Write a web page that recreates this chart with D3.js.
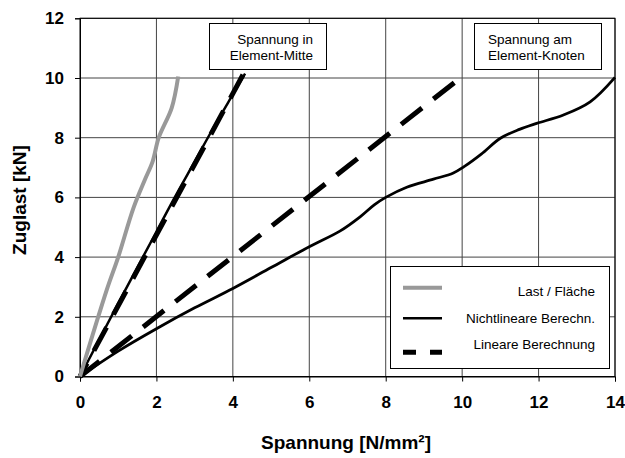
<!DOCTYPE html>
<html><head><meta charset="utf-8">
<script src="https://cdn.jsdelivr.net/npm/d3@7"></script>
<style>
html,body{margin:0;padding:0;background:#fff;}
svg{display:block;font-family:"Liberation Sans",Arial,sans-serif;}
</style></head>
<body><svg id="chart" width="625" height="458"></svg>
<script>
// ---- data ----
const xTicks = [0,2,4,6,8,10,12,14];
const yTicks = [0,2,4,6,8,10,12];

// Last / Fläche (grey)
const lastX = [0,0.7,1.0,1.4,1.7,1.9,2.06,2.4,2.57];
const lastY = [0,2.9,4.0,5.65,6.6,7.2,8.0,9.0,10.05];

// Element-Mitte
const mitteNlX = [0,1,2,2.44,3,3.5,4,4.32];
const mitteNlY = [0,2.45,4.85,5.91,7.2,8.35,9.45,10.15];
const mitteLinX = [0,4.27];
const mitteLinY = [0,10.12];

// Element-Knoten
const knotNlX = [0,1,2,3,4,5,6,6.8,7.33,7.7,8.0,8.55,9.25,9.77,10.05,10.5,11.0,11.5,11.95,12.65,13.35,14];
const knotNlY = [0,0.85,1.6,2.3,2.95,3.65,4.35,4.87,5.35,5.75,6.0,6.34,6.61,6.82,7.03,7.45,7.98,8.28,8.48,8.76,9.2,10.02];
const knotLinX = [0,9.85];
const knotLinY = [0,9.9];

const legendLabels = ["Last / Fläche","Nichtlineare Berechn.","Lineare Berechnung"];
const noteMitte = ["Spannung in","Element-Mitte"];
const noteKnoten = ["Spannung am","Element-Knoten"];
const xTitle = "Spannung [N/mm²]";
const yTitle = "Zuglast [kN]";

// ---- layout ----
const svg = d3.select("#chart");
const L = 80, R = 615, T = 18.3, B = 376.5;
const x = d3.scaleLinear().domain([0,14]).range([L,R]);
const y = d3.scaleLinear().domain([0,12]).range([B,T]);

// grid
const g = svg.append("g");
g.selectAll(".vg").data(xTicks.slice(1)).enter().append("line")
  .attr("x1",d=>x(d)).attr("x2",d=>x(d)).attr("y1",T).attr("y2",B)
  .attr("stroke","#444").attr("stroke-width",1);
g.selectAll(".hg").data(yTicks.slice(1)).enter().append("line")
  .attr("x1",L).attr("x2",R).attr("y1",d=>y(d)).attr("y2",d=>y(d))
  .attr("stroke","#444").attr("stroke-width",1);
// frame
svg.append("rect").attr("x",L).attr("y",T).attr("width",R-L).attr("height",B-T)
  .attr("fill","none").attr("stroke","#000").attr("stroke-width",1);

// axes
const xAxis = d3.axisBottom(x).tickValues(xTicks).tickSize(5).tickPadding(14);
const yAxis = d3.axisLeft(y).tickValues(yTicks).tickSize(5).tickPadding(11);
const gx = svg.append("g").attr("transform",`translate(0,${B})`).call(xAxis);
const gy = svg.append("g").attr("transform",`translate(${L},0)`).call(yAxis);
[gx,gy].forEach(a=>{
  a.select(".domain").attr("stroke","#000");
  a.selectAll(".tick line").attr("stroke","#000");
  a.selectAll(".tick text").attr("font-size",17).attr("font-weight","bold")
   .attr("font-family","'Liberation Sans',Arial,sans-serif").attr("fill","#000");
});

// series
const zip = (xs,ys)=>xs.map((v,i)=>[v,ys[i]]);
const lineS = d3.line().x(d=>x(d[0])).y(d=>y(d[1])).curve(d3.curveCatmullRom.alpha(0.5));
const lineL = d3.line().x(d=>x(d[0])).y(d=>y(d[1]));

const plot = svg.append("g");
plot.append("path").attr("d",lineL(zip(mitteLinX,mitteLinY)))
  .attr("fill","none").attr("stroke","#000").attr("stroke-width",5)
  .attr("stroke-dasharray","26.5,14.5").attr("stroke-dashoffset",11.6);
plot.append("path").attr("d",lineL(zip(knotLinX,knotLinY)))
  .attr("fill","none").attr("stroke","#000").attr("stroke-width",5)
  .attr("stroke-dasharray","26.5,14.5").attr("stroke-dashoffset",1.7);
plot.append("path").attr("d",lineS(zip(mitteNlX,mitteNlY)))
  .attr("fill","none").attr("stroke","#000").attr("stroke-width",2.5);
plot.append("path").attr("d",lineS(zip(knotNlX,knotNlY)))
  .attr("fill","none").attr("stroke","#000").attr("stroke-width",2.8).attr("stroke-linejoin","round");
plot.append("path").attr("d",lineS(zip(lastX,lastY)))
  .attr("fill","none").attr("stroke","#999").attr("stroke-width",4).attr("stroke-linejoin","round");

// notes
function note(x0,y0,w,h,lines,anchor,tx){
  const n = svg.append("g");
  n.append("rect").attr("x",x0).attr("y",y0).attr("width",w).attr("height",h)
    .attr("fill","#fff").attr("stroke","#000").attr("stroke-width",1);
  lines.forEach((t,i)=>n.append("text").attr("x",tx).attr("y",y0+20+i*16)
    .attr("text-anchor",anchor).attr("font-size",13.5).attr("fill","#000").text(t));
}
note(209.5,23.5,117,46,noteMitte,"end",313);
note(474.5,23.5,127,46,noteKnoten,"start",488);

// legend
const lg = svg.append("g");
lg.append("rect").attr("x",390.5).attr("y",266.5).attr("width",219).attr("height",102)
  .attr("fill","#fff").attr("stroke","#000").attr("stroke-width",1);
const lgStyles = [
  {stroke:"#999",w:4,dash:null,ly:287.7,ty:296},
  {stroke:"#000",w:2.5,dash:null,ly:318.3,ty:322.7},
  {stroke:"#000",w:5,dash:"13,14",ly:352.3,ty:348.7}
];
legendLabels.forEach((lab,i)=>{
  const s = lgStyles[i];
  const ln = lg.append("line").attr("x1",403).attr("x2",442).attr("y1",s.ly).attr("y2",s.ly)
    .attr("stroke",s.stroke).attr("stroke-width",s.w);
  if(s.dash) ln.attr("stroke-dasharray",s.dash);
  lg.append("text").attr("x",595).attr("y",s.ty).attr("text-anchor","end")
    .attr("font-size",13.5).attr("fill","#000").text(lab);
});

// axis titles
svg.append("text").attr("x",346).attr("y",449).attr("text-anchor","middle")
  .attr("font-size",19).attr("font-weight","bold").text(xTitle);
svg.append("text").attr("transform","translate(26,200) rotate(-90)").attr("text-anchor","middle")
  .attr("font-size",19).attr("font-weight","bold").text(yTitle);
</script></body></html>
